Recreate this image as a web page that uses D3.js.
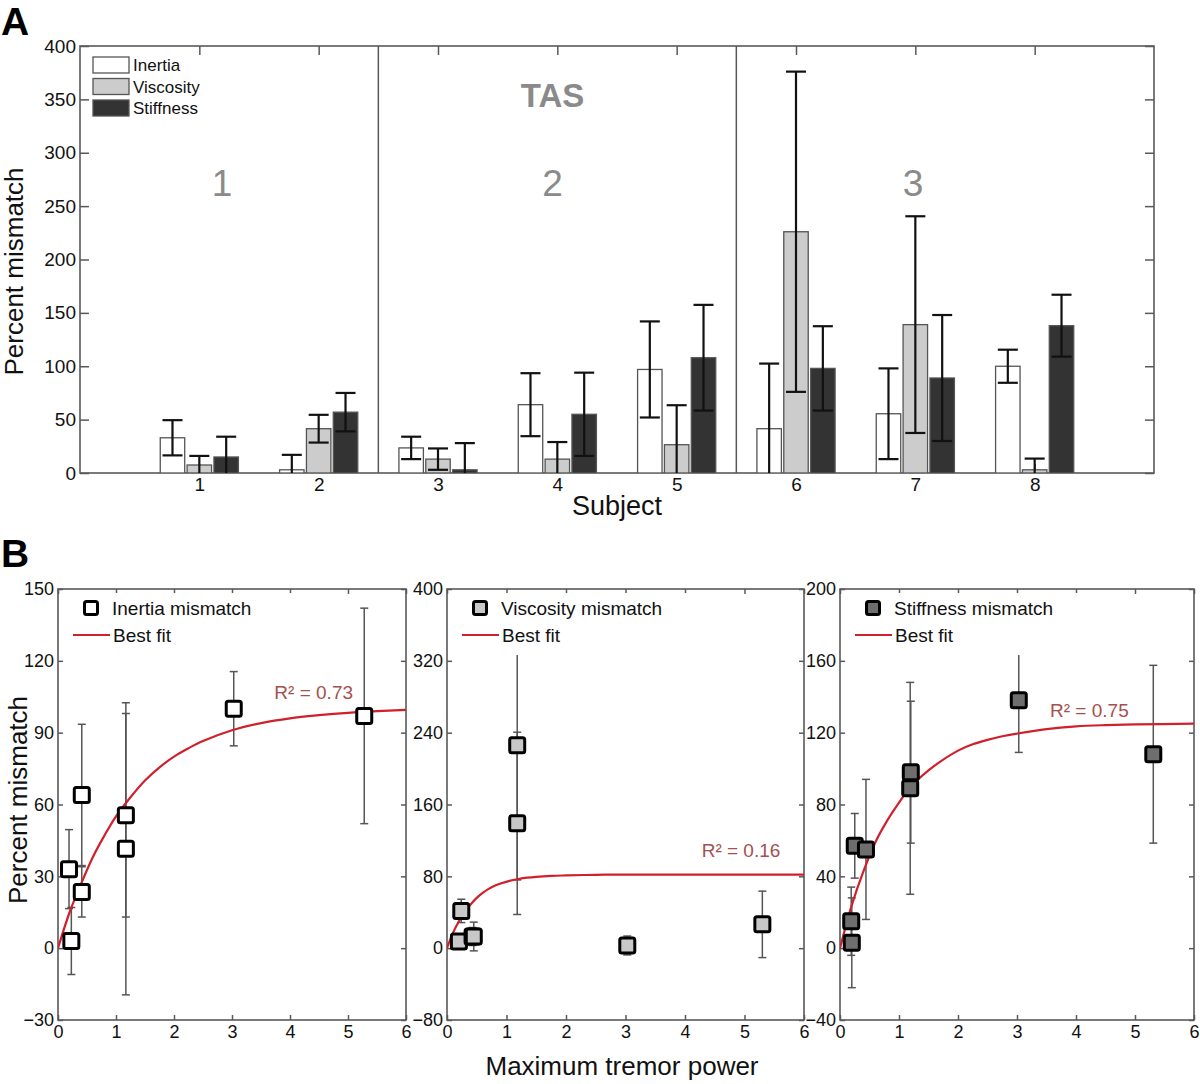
<!DOCTYPE html>
<html>
<head>
<meta charset="utf-8">
<script src="https://cdn.jsdelivr.net/npm/d3@7"></script>
<style>
  body { margin: 0; background: #fff; }
  text { font-family: "Liberation Sans", Arial, sans-serif; }
</style>
</head>
<body>
<svg id="chart" width="1200" height="1084"></svg>
<script>
// ---- Data ----
const subjects = [1, 2, 3, 4, 5, 6, 7, 8];

// Panel A: mean percent mismatch and error (half-length of bar)
const inertia      = [33, 3, 23.5, 64, 97, 41.5, 55.5, 100];
const inertiaErr   = [16.5, 14, 10.5, 29.5, 45, 61, 42.5, 15.5];
const viscosity    = [7.5, 41.5, 13, 13, 26.5, 226, 139, 3];
const viscosityErr = [8.5, 13, 10, 16, 37, 150, 101.5, 10.5];
const stiffness    = [15, 57, 3, 55, 108, 98, 89, 138];
const stiffnessErr = [19, 18, 25, 39, 49.5, 39.5, 59, 29];

// Panel B: maximum tremor power of each subject, as placed in each plot
const inertiaPower   = [0.19, 0.23, 0.41, 0.41, 5.28, 1.17, 1.17, 3.03];
const viscosityPower = [0.2, 0.24, 0.43, 0.45, 5.3, 1.18, 1.18, 3.03];
const stiffnessPower = [0.19, 0.25, 0.2, 0.44, 5.31, 1.2, 1.19, 3.03];

// Best fit curves, sampled from the figure [x, y]
const inertiaFit = [[0, 0], [0.2, 15], [0.4, 27], [0.6, 38], [0.8, 47], [1, 55], [1.25, 63],
  [1.5, 70], [1.75, 75.5], [2, 80], [2.25, 83.5], [2.5, 86.5], [3, 91], [3.5, 94], [4, 96],
  [4.5, 97.3], [5, 98.3], [5.5, 99], [6, 99.5]];
const viscosityFit = [[0, 0], [0.1, 17], [0.2, 30], [0.3, 41], [0.4, 49], [0.5, 56], [0.6, 61.5],
  [0.7, 66], [0.8, 69.5], [0.9, 72], [1.05, 75], [1.2, 77], [1.35, 78.5], [1.5, 79.5],
  [1.75, 80.5], [2, 81], [2.5, 81.7], [3, 82], [4, 82], [6, 82]];
const stiffnessFit = [[0, 0], [0.2, 24], [0.4, 43], [0.6, 59], [0.8, 71], [1, 81], [1.2, 90],
  [1.5, 99], [1.75, 105], [2, 110], [2.25, 113.5], [2.5, 116], [2.75, 118], [3, 119.5],
  [3.5, 122], [4, 123.5], [4.5, 124.2], [5, 124.6], [6, 125]];

const rSquared = ['0.73', '0.16', '0.75'];

// Tick labels
const ticksA = [0, 50, 100, 150, 200, 250, 300, 350, 400];
const ticksPower = [0, 1, 2, 3, 4, 5, 6];
const ticksInertia = [-30, 0, 30, 60, 90, 120, 150];
const ticksViscosity = [-80, 0, 80, 160, 240, 320, 400];
const ticksStiffness = [-40, 0, 40, 80, 120, 160, 200];

// Group labels in panel A
const groupNames = ['1', '2', '3'];
const groupDividers = [2.5, 5.5];

// ---- Styles ----
const axisColor = '#595959';
const fillInertia = '#ffffff';
const fillViscosity = '#cccccc';
const fillStiffness = '#333333';
const fitColor = '#d0202c';
const rColor = '#a5504f';

const svg = d3.select('#chart');
const fmt = d3.format('d');

// Inward MATLAB-style ticks on all four sides
function boxAxes(g, x, y, xTicks, yTicks, tickLen, fontSize) {
  const w = x.range()[1] - x.range()[0];
  const h = y.range()[0] - y.range()[1];

  g.append('g')
    .attr('transform', `translate(${x.range()[0]},0)`)
    .call(d3.axisLeft(y).tickValues(yTicks).tickFormat(fmt)
      .tickSizeInner(-tickLen).tickSizeOuter(0).tickPadding(4));
  g.append('g')
    .attr('transform', `translate(${x.range()[1]},0)`)
    .call(d3.axisRight(y).tickValues(yTicks).tickSizeInner(-tickLen).tickSizeOuter(0).tickFormat(''));
  g.append('g')
    .attr('transform', `translate(0,${y.range()[1]})`)
    .call(d3.axisTop(x).tickValues(xTicks).tickSizeInner(-tickLen).tickSizeOuter(0).tickFormat(''));
  g.append('g')
    .attr('transform', `translate(0,${y.range()[0]})`)
    .call(d3.axisBottom(x).tickValues(xTicks).tickFormat(fmt)
      .tickSizeInner(-tickLen).tickSizeOuter(0).tickPadding(5));

  g.selectAll('.domain').remove();
  g.selectAll('.tick line').attr('stroke', axisColor).attr('stroke-width', 1.5);
  g.selectAll('.tick text').attr('fill', '#111').style('font-size', fontSize + 'px')
    .style('font-family', '"Liberation Sans", Arial, sans-serif');

  g.append('rect')
    .attr('x', x.range()[0]).attr('y', y.range()[1])
    .attr('width', w).attr('height', h)
    .attr('fill', 'none').attr('stroke', axisColor).attr('stroke-width', 1.6);
}

// ---- Panel A: bar chart ----
function renderPanelA() {
  const x = d3.scaleLinear().domain([0, 9]).range([80, 1154]);
  const y = d3.scaleLinear().domain([0, 400]).range([473, 46]);
  const g = svg.append('g');

  svg.append('clipPath').attr('id', 'clipA')
    .append('rect')
    .attr('x', x(0)).attr('y', y(400))
    .attr('width', x(9) - x(0)).attr('height', y(0) - y(400));

  boxAxes(g, x, y, subjects, ticksA, 9, 19);

  // group dividers
  g.selectAll('.divider')
    .data(groupDividers)
    .join('line')
    .attr('x1', (d) => x(d)).attr('x2', (d) => x(d))
    .attr('y1', y(0)).attr('y2', y(400))
    .attr('stroke', axisColor).attr('stroke-width', 1.5);

  const series = [
    { values: inertia, err: inertiaErr, fill: fillInertia, offset: -0.225 },
    { values: viscosity, err: viscosityErr, fill: fillViscosity, offset: 0 },
    { values: stiffness, err: stiffnessErr, fill: fillStiffness, offset: 0.225 },
  ];
  const barW = x(0.205) - x(0);

  const plot = g.append('g').attr('clip-path', 'url(#clipA)');

  series.forEach((s) => {
    plot.append('g')
      .selectAll('rect')
      .data(subjects)
      .join('rect')
      .attr('x', (d) => x(d + s.offset) - barW / 2)
      .attr('y', (d, i) => y(s.values[i]))
      .attr('width', barW)
      .attr('height', (d, i) => y(0) - y(s.values[i]))
      .attr('fill', s.fill)
      .attr('stroke', '#555')
      .attr('stroke-width', 1.3);
  });

  // error bars
  const capW = 10;
  series.forEach((s) => {
    const eg = plot.append('g').attr('stroke', '#111').attr('stroke-width', 2.2);
    subjects.forEach((d, i) => {
      const cx = x(d + s.offset);
      const lo = y(s.values[i] - s.err[i]);
      const hi = y(s.values[i] + s.err[i]);
      eg.append('line').attr('x1', cx).attr('x2', cx).attr('y1', lo).attr('y2', hi);
      eg.append('line').attr('x1', cx - capW).attr('x2', cx + capW).attr('y1', lo).attr('y2', lo);
      eg.append('line').attr('x1', cx - capW).attr('x2', cx + capW).attr('y1', hi).attr('y2', hi);
    });
  });

  // group labels
  g.selectAll('.group')
    .data(groupNames)
    .join('text')
    .attr('x', (d, i) => x([1.19, 3.96, 6.98][i]))
    .attr('y', y(272))
    .attr('dy', '0.36em')
    .attr('text-anchor', 'middle')
    .attr('fill', '#8a8a8a')
    .style('font-size', '37px')
    .text((d) => d);

  g.append('text')
    .attr('x', x(3.96)).attr('y', y(354)).attr('dy', '0.36em')
    .attr('text-anchor', 'middle')
    .attr('fill', '#8a8a8a')
    .style('font-size', '33px').style('font-weight', 'bold')
    .text('TAS');

  // legend
  const legendItems = [['Inertia', fillInertia], ['Viscosity', fillViscosity], ['Stiffness', fillStiffness]];
  const lg = g.append('g').attr('transform', `translate(${x(0) + 13},${y(400) + 11})`);
  legendItems.forEach(([name, fill], i) => {
    lg.append('rect')
      .attr('x', 0).attr('y', i * 21.5)
      .attr('width', 36).attr('height', 16)
      .attr('fill', fill).attr('stroke', '#555').attr('stroke-width', 1.3);
    lg.append('text')
      .attr('x', 40).attr('y', i * 21.5 + 8).attr('dy', '0.36em')
      .attr('fill', '#111').style('font-size', '17px')
      .text(name);
  });

  // axis titles
  svg.append('text')
    .attr('transform', `translate(14,${(y(0) + y(400)) / 2 + 12}) rotate(-90)`)
    .attr('text-anchor', 'middle').attr('dy', '0.36em')
    .attr('fill', '#111').style('font-size', '26px')
    .text('Percent mismatch');
  svg.append('text')
    .attr('x', 617).attr('y', 505).attr('dy', '0.36em')
    .attr('text-anchor', 'middle')
    .attr('fill', '#111').style('font-size', '27px')
    .text('Subject');
}

// ---- Panel B: scatter with fits ----
function renderScatter(cfg, idx) {
  const x = d3.scaleLinear().domain([0, 6]).range([cfg.left, cfg.right]);
  const y = d3.scaleLinear().domain(d3.extent(cfg.yTicks)).range([1020, 589]);
  const g = svg.append('g');
  const clipId = 'clipB' + idx;

  svg.append('clipPath').attr('id', clipId)
    .append('rect')
    .attr('x', x(0)).attr('y', y.range()[1])
    .attr('width', x(6) - x(0)).attr('height', y.range()[0] - y.range()[1]);

  boxAxes(g, x, y, ticksPower, cfg.yTicks, 5, 18);

  const plot = g.append('g').attr('clip-path', `url(#${clipId})`);

  // error bars
  const eg = plot.append('g').attr('stroke', '#555').attr('stroke-width', 1.5);
  subjects.forEach((d, i) => {
    const cx = x(cfg.power[i]);
    const lo = y(cfg.values[i] - cfg.err[i]);
    const hi = y(cfg.values[i] + cfg.err[i]);
    eg.append('line').attr('x1', cx).attr('x2', cx).attr('y1', lo).attr('y2', hi);
    eg.append('line').attr('x1', cx - 4).attr('x2', cx + 4).attr('y1', lo).attr('y2', lo);
    eg.append('line').attr('x1', cx - 4).attr('x2', cx + 4).attr('y1', hi).attr('y2', hi);
  });

  // fit curve
  const line = d3.line()
    .x((d) => x(d[0]))
    .y((d) => y(d[1]))
    .curve(d3.curveCatmullRom.alpha(0.5));
  plot.append('path')
    .datum(cfg.fit)
    .attr('d', line)
    .attr('fill', 'none')
    .attr('stroke', fitColor)
    .attr('stroke-width', 2.2);

  // markers
  const ms = 15;
  plot.append('g')
    .selectAll('rect')
    .data(subjects)
    .join('rect')
    .attr('x', (d, i) => x(cfg.power[i]) - ms / 2)
    .attr('y', (d, i) => y(cfg.values[i]) - ms / 2)
    .attr('width', ms).attr('height', ms)
    .attr('rx', 2)
    .attr('fill', cfg.fill)
    .attr('stroke', '#000')
    .attr('stroke-width', 3);

  // R squared label
  g.append('text')
    .attr('x', x(cfg.rPos[0])).attr('y', y(cfg.rPos[1]))
    .attr('fill', rColor).style('font-size', '19px')
    .text(`R² = ${cfg.r2}`);

  // legend (white background hides what lies behind it)
  const top = y.range()[1];
  const lg = g.append('g').attr('transform', `translate(${cfg.left},${top})`);
  lg.append('rect')
    .attr('x', 8).attr('y', 4).attr('width', 250).attr('height', 62)
    .attr('fill', '#fff');
  lg.append('rect')
    .attr('x', 33 - 6.5).attr('y', 19 - 6.5).attr('width', 13).attr('height', 13)
    .attr('rx', 2)
    .attr('fill', cfg.fill).attr('stroke', '#000').attr('stroke-width', 3);
  lg.append('text')
    .attr('x', 54).attr('y', 19).attr('dy', '0.36em')
    .attr('fill', '#111').style('font-size', '19px')
    .text(cfg.name);
  lg.append('line')
    .attr('x1', 15).attr('x2', 52).attr('y1', 46).attr('y2', 46)
    .attr('stroke', fitColor).attr('stroke-width', 2);
  lg.append('text')
    .attr('x', 55).attr('y', 46).attr('dy', '0.36em')
    .attr('fill', '#111').style('font-size', '19px')
    .text('Best fit');
}

function renderPanelB() {
  const plots = [
    { name: 'Inertia mismatch', left: 58, right: 406, yTicks: ticksInertia,
      power: inertiaPower, values: inertia, err: inertiaErr, fit: inertiaFit,
      fill: fillInertia, r2: rSquared[0], rPos: [3.73, 104] },
    { name: 'Viscosity mismatch', left: 447, right: 804, yTicks: ticksViscosity,
      power: viscosityPower, values: viscosity, err: viscosityErr, fit: viscosityFit,
      fill: '#c8c8c8', r2: rSquared[1], rPos: [4.28, 102] },
    { name: 'Stiffness mismatch', left: 840, right: 1194, yTicks: ticksStiffness,
      power: stiffnessPower, values: stiffness, err: stiffnessErr, fit: stiffnessFit,
      fill: '#6e6e6e', r2: rSquared[2], rPos: [3.56, 129] },
  ];
  plots.forEach(renderScatter);

  svg.append('text')
    .attr('transform', 'translate(18,800) rotate(-90)')
    .attr('text-anchor', 'middle').attr('dy', '0.36em')
    .attr('fill', '#111').style('font-size', '26px')
    .text('Percent mismatch');
  svg.append('text')
    .attr('x', 622).attr('y', 1066).attr('dy', '0.36em')
    .attr('text-anchor', 'middle')
    .attr('fill', '#111').style('font-size', '26px')
    .text('Maximum tremor power');
}

renderPanelA();
renderPanelB();

// panel letters
svg.append('text').attr('x', 1).attr('y', 35)
  .style('font-size', '39px').style('font-weight', 'bold').attr('fill', '#000').text('A');
svg.append('text').attr('x', 1).attr('y', 567)
  .style('font-size', '39px').style('font-weight', 'bold').attr('fill', '#000').text('B');
</script>
</body>
</html>
